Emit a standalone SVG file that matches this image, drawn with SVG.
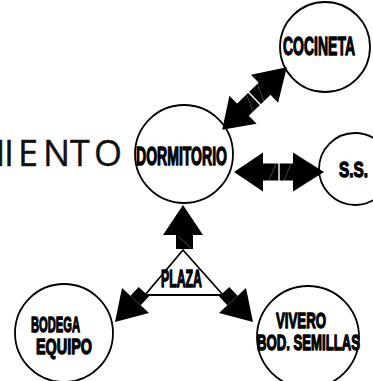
<svg xmlns="http://www.w3.org/2000/svg" xmlns:xlink="http://www.w3.org/1999/xlink" width="373" height="381" viewBox="0 0 373 381">
<style>
.node{fill:#fff;stroke:#000;stroke-width:1.8}
.lbl{font-family:"Liberation Sans",Arial,sans-serif;font-weight:bold;fill:#000;stroke:#000;stroke-width:1.3;stroke-linejoin:round}
.big{font-family:"Open Sans","Noto Sans",sans-serif;font-weight:normal;font-size:36px;fill:#111;stroke:#111;stroke-width:0.4}
.ar{fill:#000;stroke:none}
.ln{fill:none;stroke:#000;stroke-width:1.8}
.gap{stroke:#fff;stroke-width:1.4}
.hair{stroke:#888;stroke-width:0.5}
</style>
<defs>
<g id="dbl">
<polygon class="ar" points="-45,0 -16,-19.5 -16,19.5"/>
<polygon class="ar" points="45,0 14,-19.5 14,19.5"/>
<rect class="ar" x="-16.5" y="-8.5" width="31" height="17"/>
<line class="gap" x1="0" y1="-9" x2="0" y2="9"/>
<line class="hair" x1="-10" y1="8.5" x2="-3" y2="-8.5"/>
<line class="hair" x1="5" y1="8.5" x2="12" y2="-8.5"/>
</g>
</defs>
<text class="big" x="-27 4 18 43 70 94" y="166">MIENTO</text>
<g id="dormitorio">
<circle class="node" cx="184" cy="154" r="49"/>
<text class="lbl" x="136" y="165" font-size="25" textLength="91" lengthAdjust="spacingAndGlyphs">DORMITORIO</text>
</g>
<g id="cocineta">
<circle class="node" cx="325" cy="47" r="45"/>
<text class="lbl" x="283" y="55" font-size="26" textLength="72" lengthAdjust="spacingAndGlyphs">COCINETA</text>
</g>
<g id="ss">
<circle class="node" cx="355" cy="169" r="36"/>
<text class="lbl" x="339" y="177" font-size="22" textLength="29" lengthAdjust="spacingAndGlyphs">S.S.</text>
</g>
<g id="bodega">
<circle class="node" cx="64" cy="333" r="49"/>
<text class="lbl" x="31" y="332" font-size="22" textLength="49" lengthAdjust="spacingAndGlyphs">BODEGA</text>
<text class="lbl" x="36" y="354" font-size="22" textLength="56" lengthAdjust="spacingAndGlyphs">EQUIPO</text>
</g>
<g id="vivero">
<circle class="node" cx="308" cy="337" r="51"/>
<text class="lbl" x="276" y="328" font-size="22" textLength="50" lengthAdjust="spacingAndGlyphs">VIVERO</text>
<text class="lbl" x="257" y="350" font-size="22" textLength="103" lengthAdjust="spacingAndGlyphs">BOD. SEMILLAS</text>
</g>
<g id="plaza">
<polyline class="ln" points="145,295 183,250 223,295"/>
<line class="ln" x1="145" y1="295" x2="235" y2="295"/>
<text class="lbl" x="161" y="287" font-size="23" textLength="41" lengthAdjust="spacingAndGlyphs">PLAZA</text>
</g>
<g id="connectors">
<use xlink:href="#dbl" href="#dbl" transform="translate(279,172)"/>
<use xlink:href="#dbl" href="#dbl" transform="translate(254.5,98.5) rotate(-44.1)"/>
<polygon class="ar" points="183,205 163,235 203,235"/>
<rect class="ar" x="176" y="234.5" width="17" height="14.5"/>
<line class="hair" x1="178" y1="236" x2="191" y2="248"/>
<polygon class="ar" points="115,322 122,288 149,313"/>
<polygon class="ar" points="130.4,295.7 140.6,305.3 148.9,296.6 138.7,287"/>
<polygon class="ar" points="253,322 246,288 219,313"/>
<polygon class="ar" points="237.6,295.7 227.4,305.3 219.1,296.6 229.3,287"/>
</g>
</svg>
